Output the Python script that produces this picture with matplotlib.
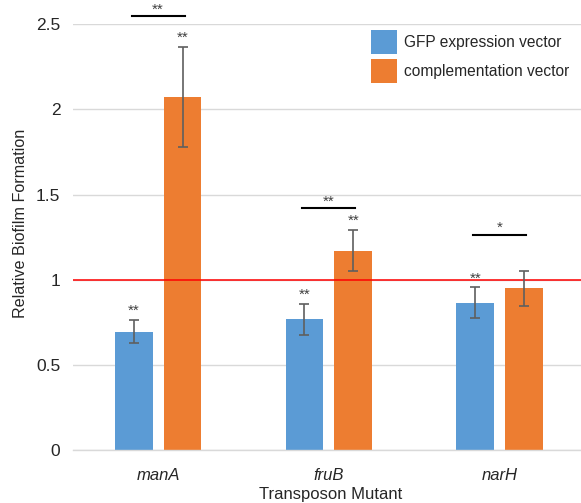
import matplotlib
matplotlib.use("Agg")
import matplotlib.pyplot as plt
import numpy as np

plt.rcParams['font.family'] = ['Liberation Sans', 'DejaVu Sans']

categories = ["manA", "fruB", "narH"]
series_names = ["GFP expression vector", "complementation vector"]
gfp = [0.696, 0.769, 0.864]
gfp_err = [0.069, 0.090, 0.091]
comp = [2.072, 1.171, 0.951]
comp_err = [0.296, 0.122, 0.103]
gfp_sig = ["**", "**", "**"]
comp_sig = ["**", "**", ""]
pair_sig = ["**", "**", "*"]
pair_y = [2.545, 1.418, 1.264]
yticks = [0, 0.5, 1, 1.5, 2, 2.5]
ytick_labels = ["0", "0.5", "1", "1.5", "2", "2.5"]

blue = "#5B9BD5"
orange = "#ED7D31"

fig = plt.figure(figsize=(5.81, 5.03), dpi=100)
ax = fig.add_axes([0.1253, 0.1048, 0.8747, 0.8475])

x = np.arange(len(categories))
w = 0.221
off = 0.143
ax.bar(x - off, gfp, w, color=blue, label=series_names[0], zorder=2)
ax.bar(x + off, comp, w, color=orange, label=series_names[1], zorder=2)
ekw = dict(fmt='none', ecolor="#5f5f5f", elinewidth=1.2, capsize=3.8, capthick=1.2, zorder=3)
ax.errorbar(x - off, gfp, yerr=gfp_err, **ekw)
ax.errorbar(x + off, comp, yerr=comp_err, **ekw)

for i in range(len(categories)):
    if gfp_sig[i]:
        ax.text(x[i] - off, gfp[i] + gfp_err[i] + 0.012, gfp_sig[i], ha='center', va='bottom',
                fontsize=11, color="#404040")
    if comp_sig[i]:
        ax.text(x[i] + off, comp[i] + comp_err[i] + 0.012, comp_sig[i], ha='center', va='bottom',
                fontsize=11, color="#404040")
    ax.plot([x[i] - 0.155, x[i] + 0.155], [pair_y[i], pair_y[i]], color="black", lw=1.5,
            clip_on=False, zorder=4)
    ax.text(x[i], pair_y[i] + 0.0, pair_sig[i], ha='center', va='bottom', fontsize=11,
            color="#404040", clip_on=False)

ax.axhline(1, color="#ff0000", lw=1.1, zorder=2.5)

ax.set_xlim(-0.5, 2.477)
ax.set_ylim(0, 2.5)
ax.set_yticks(yticks)
ax.set_yticklabels(ytick_labels, fontsize=12.5, color="#262626")
ax.set_xticks(x)
ax.set_xticklabels(categories, fontsize=12, style='italic', color="#262626")
ax.tick_params(axis='both', length=0)
ax.tick_params(axis='x', pad=13)
ax.tick_params(axis='y', pad=9)
ax.grid(axis='y', color="#d9d9d9", lw=1, zorder=0)
ax.set_axisbelow(True)
for s in ['top', 'right', 'left']:
    ax.spines[s].set_visible(False)
ax.spines['bottom'].set_color("#d9d9d9")
ax.spines['bottom'].set_linewidth(1)

ax.set_ylabel("Relative Biofilm Formation", fontsize=11.6, color="#262626")
ax.yaxis.set_label_coords(-0.088, 0.533)
ax.set_xlabel("Transposon Mutant", fontsize=12, color="#262626", labelpad=3)
ax.xaxis.set_label_coords(0.508, -0.085)

leg = fig.legend(loc='upper left', bbox_to_anchor=(357 / 581, 1 - 16 / 503), frameon=False,
                 fontsize=11.2, handlelength=1.65, handleheight=2.0, handletextpad=0.5,
                 labelspacing=0.3, borderpad=0.4)
for t in leg.get_texts():
    t.set_color("#262626")

fig.savefig("out.png", dpi=100)
